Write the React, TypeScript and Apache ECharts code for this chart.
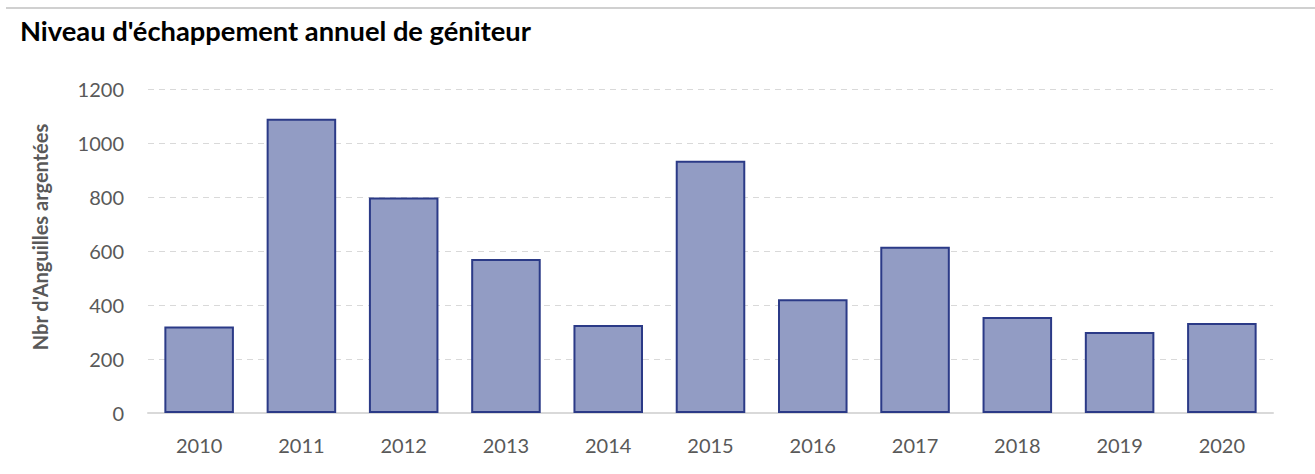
import React, { useEffect, useRef } from "react";
import * as echarts from "echarts";

const years = ["2010", "2011", "2012", "2013", "2014", "2015", "2016", "2017", "2018", "2019", "2020"];
const counts = [320, 1090, 798, 570, 326, 934, 421, 616, 356, 300, 333];
const title = "Niveau d'échappement annuel de géniteur";
const yName = "Nbr d'Anguilles argentées";

export default function App() {
  const ref = useRef<HTMLDivElement>(null);
  useEffect(() => {
    document.body.style.margin = "0";
    const chart = echarts.init(ref.current!, null, { renderer: "svg" });
    chart.setOption({
      animation: false,
      backgroundColor: "#ffffff",
      title: {
        text: title,
        left: 15,
        top: 12,
        textStyle: { fontFamily: "Lato", fontWeight: "bold", fontSize: 27.3, color: "#000000" },
      },
      graphic: [
        { type: "line", shape: { x1: 6, y1: 8, x2: 1315, y2: 8 }, style: { stroke: "#d0d0d0", lineWidth: 2 } },
        {
          type: "text",
          x: 40,
          y: 237,
          rotation: Math.PI / 2,
          style: {
            text: yName,
            align: "center",
            verticalAlign: "middle",
            fill: "#595959",
            font: "bold 20px Lato",
          },
        },
      ],
      grid: { left: 148, right: 42, top: 89, bottom: 61 },
      xAxis: {
        type: "category",
        data: years,
        axisLine: { lineStyle: { color: "#d9d9d9", width: 2 } },
        axisTick: { show: false },
        axisLabel: { color: "#595959", fontSize: 20, fontFamily: "Lato", margin: 22 },
      },
      yAxis: {
        type: "value",
        min: 0,
        max: 1200,
        interval: 200,
        axisLabel: {
          color: "#595959",
          fontSize: 20,
          fontFamily: "Lato",
          margin: 24,
          formatter: (v: number) => String(v),
        },
        splitLine: { lineStyle: { color: "#d9d9d9", type: [6, 5], width: 1 } },
        axisLine: { show: false },
        axisTick: { show: false },
      },
      series: [
        {
          type: "bar",
          data: counts,
          barCategoryGap: "32%",
          itemStyle: { color: "#929cc4", borderColor: "#2b3a87", borderWidth: 2 },
        },
      ],
    });
    return () => chart.dispose();
  }, []);
  return <div ref={ref} style={{ width: 1315, height: 474 }} />;
}
